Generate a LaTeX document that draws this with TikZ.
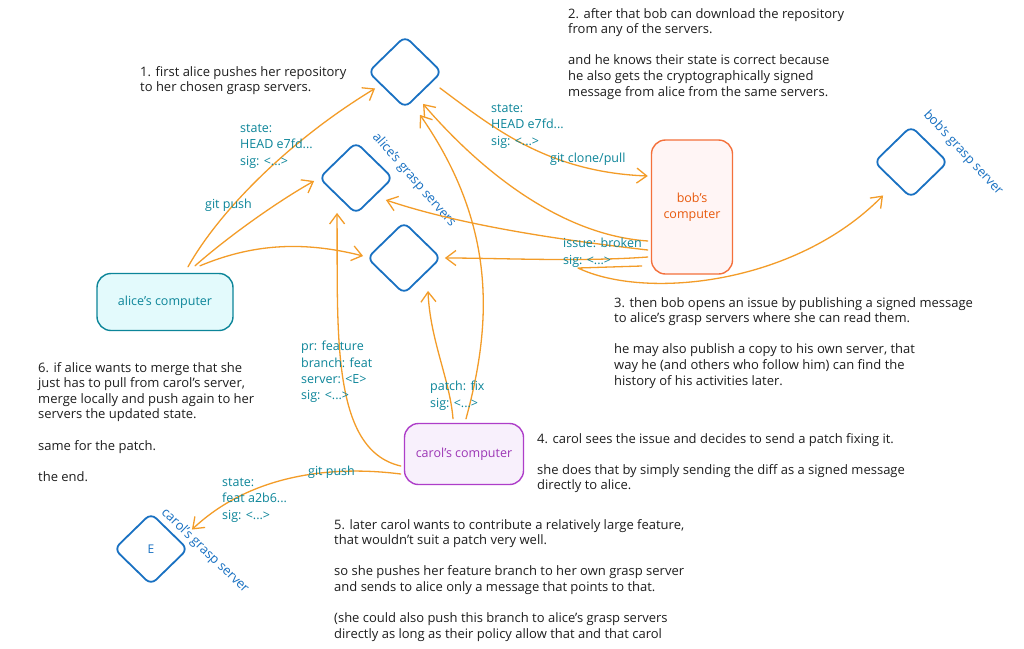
\documentclass[tikz,border=0pt]{standalone}
\usepackage{fontspec}
\setmainfont{Open Sans}
\usetikzlibrary{arrows.meta,shapes.geometric,calc}
\definecolor{ink}{HTML}{1E1E1E}
\definecolor{lbl}{HTML}{0C8599}
\definecolor{srv}{HTML}{1971C2}
\definecolor{arr}{HTML}{F39C28}
\definecolor{alicefill}{HTML}{E3FAFC}
\definecolor{alicedraw}{HTML}{0C8599}
\definecolor{bobfill}{HTML}{FFF5F5}
\definecolor{bobdraw}{HTML}{F4703B}
\definecolor{bobtext}{HTML}{E8590C}
\definecolor{carolfill}{HTML}{F8F0FC}
\definecolor{caroldraw}{HTML}{AE3EC9}
\definecolor{caroltext}{HTML}{9C36B5}
\begin{document}
\begin{tikzpicture}[x=1pt,y=-1pt,
  server/.style={diamond, draw=srv, line width=1.8pt, rounded corners=7pt,
    minimum width=74pt, minimum height=72pt, inner sep=0pt, aspect=1,
    text=srv, font=\fontsize{12}{14}\selectfont},
  srvname/.style={text=srv, inner sep=0pt, font=\fontsize{13}{15}\selectfont},
  comp/.style={rectangle, rounded corners=14pt, line width=1.4pt, inner sep=0pt,
    align=center, font=\fontsize{12.5}{16}\selectfont},
  flow/.style={draw=arr, line width=1.3pt, line cap=round, line join=round,
    -{Straight Barb[length=10pt,width=15pt]}},
  note/.style={anchor=north west, inner sep=0pt, align=left, text=ink,
    font=\fontsize{13}{15.6}\selectfont},
  tag/.style={anchor=north west, inner sep=0pt, align=left, text=lbl,
    font=\fontsize{12.5}{16.4}\selectfont}]
\fill[white] (0,0) rectangle (1024,648);
\useasboundingbox (0,0) rectangle (1024,648);

% grasp servers
\node[server] (s1) at (405,72) {};
\node[server] (s2) at (356,178) {};
\node[server] (s3) at (404,258) {};
\node[server] (sb) at (911,162) {};
\node[server] (sc) at (151,549) {E};
\node[srvname, rotate=-49] (s2name) at (414,180) {alice's grasp servers};
\node[srvname, rotate=-47] (sbname) at (963,153) {bob's grasp server};
\node[srvname, rotate=-44] (scname) at (205,551) {carol's grasp server};

% computers
\node[comp, draw=alicedraw, fill=alicefill, text=alicedraw,
  minimum width=136pt, minimum height=57pt] (alice) at (165,302) {alice's computer};
\node[comp, draw=bobdraw, fill=bobfill, text=bobtext,
  minimum width=81pt, minimum height=134pt] (bob) at (692,207) {bob's\\computer};
\node[comp, draw=caroldraw, fill=carolfill, text=caroltext,
  minimum width=119pt, minimum height=61pt] (carol) at (464,454) {carol's computer};

% alice pushes to her servers
\draw[flow] ($(alice.north)+(23,-6)$) .. controls (220,210) and (290,140) .. ($(s1.south west)+(-11,-2)$);
\draw[flow] ($(alice.north)+(30,-7)$) .. controls (230,235) and (280,200) .. ($(s2.west)+(-4,3)$);
\draw[flow] ($(alice.north)+(35,-7)$) .. controls (250,245) and (300,240) .. ($(s3.west)+(-3,-2)$);

% bob clones and files the issue
\draw[flow] ($(s1.east)+(-3,16)$) .. controls (490,125) and (545,172) .. ($(bob.west)+(-3,-31)$);
\draw[flow] ($(bob.west)+(-3,34)$) .. controls (560,235) and (480,170) .. ($(s1.south)+(18,-5)$);
\draw[flow] ($(bob.west)+(-3,43)$) .. controls (560,240) and (460,225) .. ($(s2.east)+(-8,22)$);
\draw[flow] ($(bob.west)+(-3,50)$) .. controls (580,262) and (500,258) .. ($(s3.east)+(3,0)$);
\draw[flow] ($(bob.west)+(-9,59)$) -- (578,268) .. controls (645,300) and (795,285) .. ($(sb.south west)+(-9,15)$);

% carol's patch and feature branch
\draw[flow] ($(carol.north)+(2,-4)$) .. controls (490,330) and (500,230) .. ($(s1.south)+(15,6)$);
\draw[flow] ($(carol.north)+(-11,-4)$) .. controls (450,380) and (430,340) .. ($(s3.south)+(24,-4)$);
\draw[flow] ($(carol.west)+(-3,12)$) .. controls (330,450) and (338,330) .. ($(s2.south)+(-19,-2)$);
\draw[flow] ($(carol.west)+(-3,20)$) .. controls (330,465) and (250,475) .. ($(sc.north east)+(22,-1)$);

% message labels
\node[tag] (l1) at (240,124) {state:\\HEAD e7fd...\\sig: <...>};
\node[tag] (l2) at (205,199) {git push};
\node[tag] (l3) at (491,104) {state:\\HEAD e7fd...\\sig: <...>};
\node[tag] (l4) at (550,153) {git clone/pull};
\node[tag] (l5) at (563,238) {issue: broken\\sig: <...>};
\node[tag] (l6) at (301,341) {pr: feature\\branch: feat\\server: <E>\\sig: <...>};
\node[tag] (l7) at (430,381) {patch: fix\\sig: <...>};
\node[tag] (l8) at (308,466) {git push};
\node[tag] (l9) at (222,478) {state:\\feat a2b6...\\sig: <...>};

% story notes
\node[note] (t1) at (140,66) {1. first alice pushes her repository\\to her chosen grasp servers.};
\node[note] (t2) at (568,8) {2. after that bob can download the repository\\from any of the servers.\\[15.6pt]and he knows their state is correct because\\he also gets the cryptographically signed\\message from alice from the same servers.};
\node[note] (t3) at (614,297) {3. then bob opens an issue by publishing a signed message\\to alice's grasp servers where she can read them.\\[15.6pt]he may also publish a copy to his own server, that\\way he (and others who follow him) can find the\\history of his activities later.};
\node[note] (t4) at (537,433) {4. carol sees the issue and decides to send a patch fixing it.\\[15.6pt]she does that by simply sending the diff as a signed message\\directly to alice.};
\node[note] (t5) at (334,519) {5. later carol wants to contribute a relatively large feature,\\that wouldn't suit a patch very well.\\[15.6pt]so she pushes her feature branch to her own grasp server\\and sends to alice only a message that points to that.\\[15.6pt](she could also push this branch to alice's grasp servers\\directly as long as their policy allow that and that carol};
\node[note] (t6) at (38,362) {6. if alice wants to merge that she\\just has to pull from carol's server,\\merge locally and push again to her\\servers the updated state.\\[15.6pt]same for the patch.\\[15.6pt]the end.};
\end{tikzpicture}
\end{document}
